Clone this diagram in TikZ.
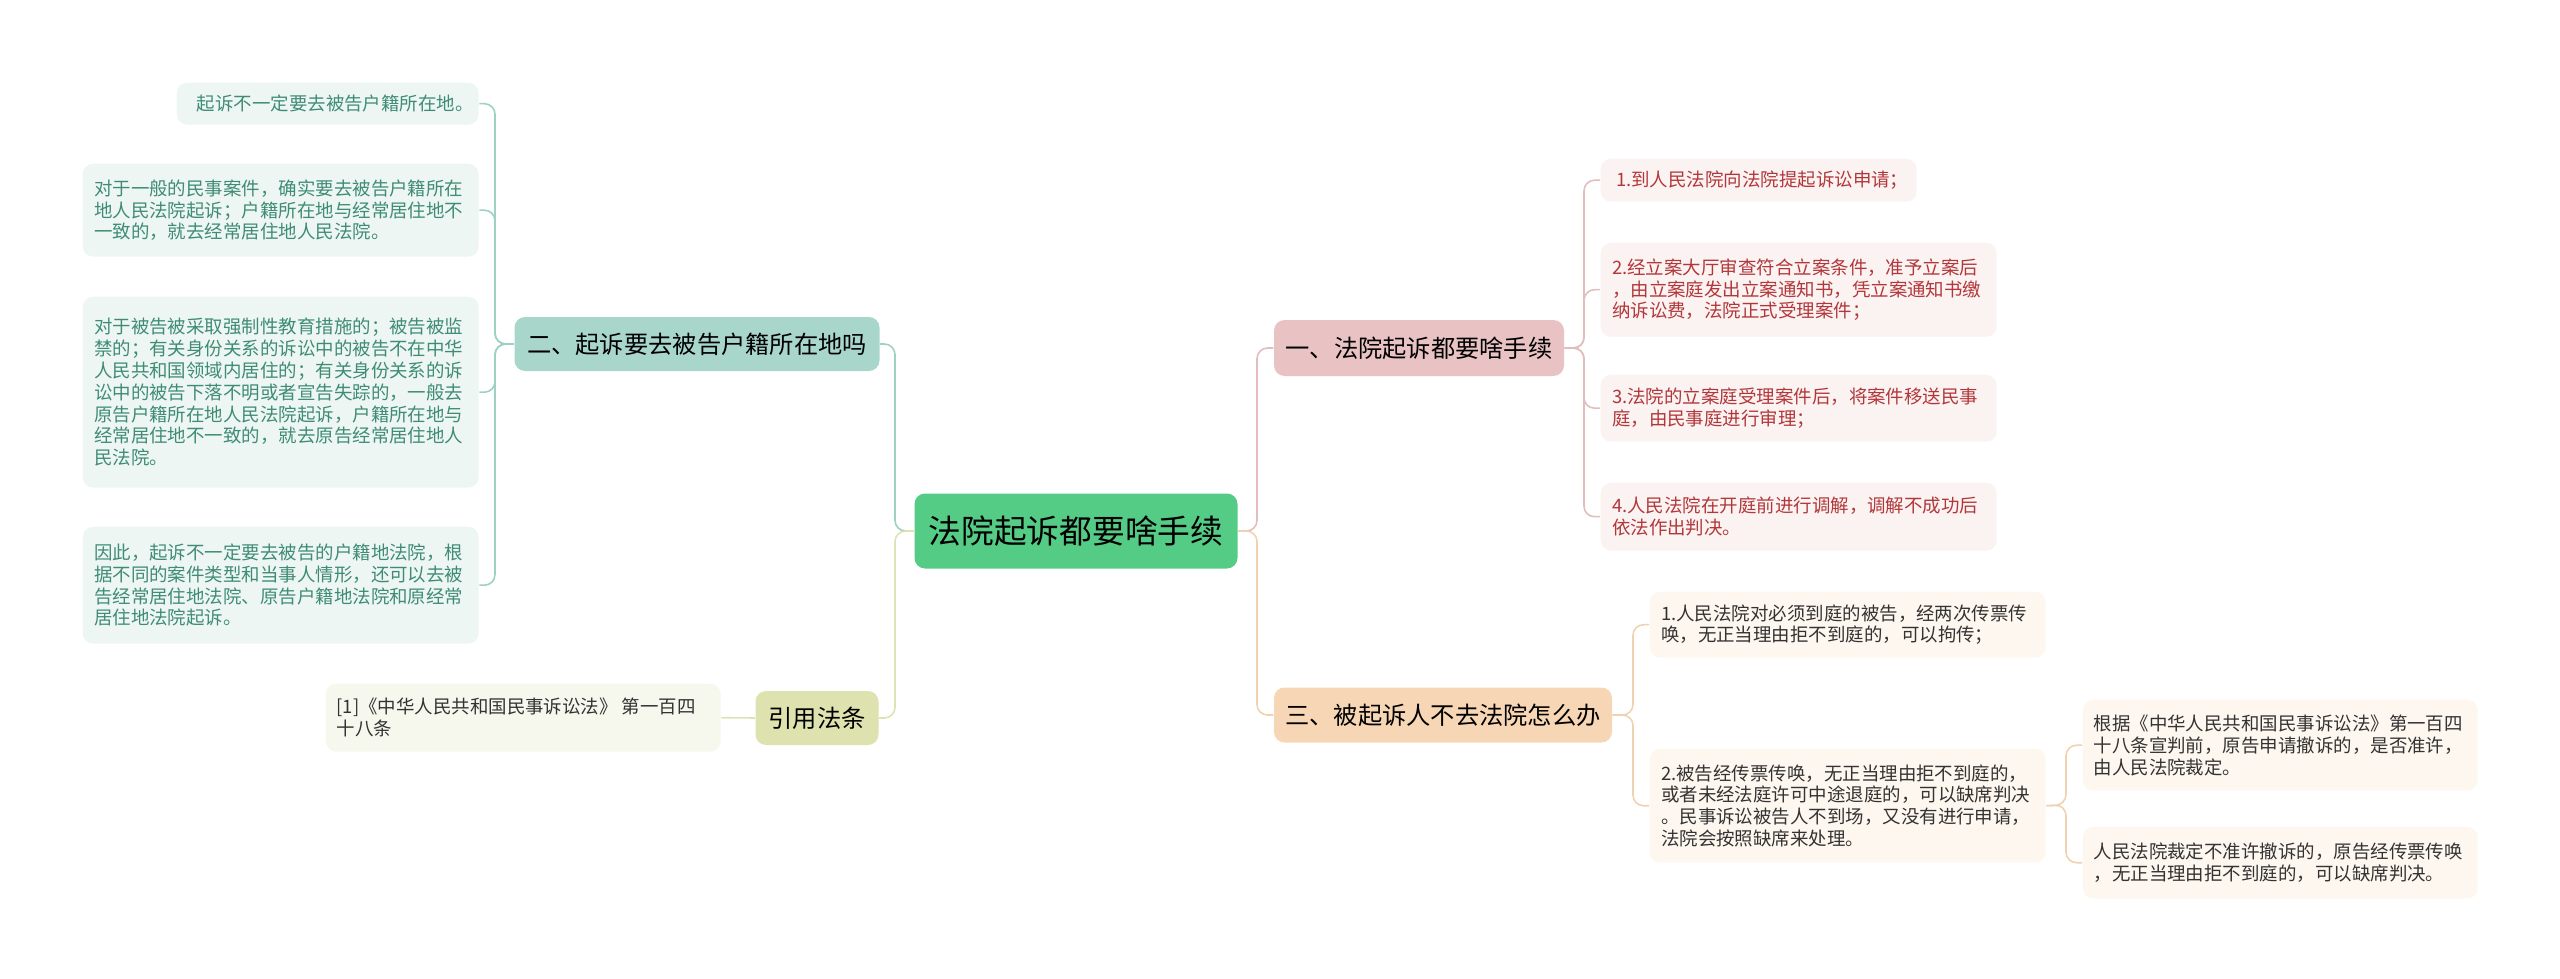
\documentclass[tikz,border=0pt]{standalone}
\usepackage{fontspec}
\setmainfont{Noto Sans CJK SC}
\usetikzlibrary{positioning}
\newlength\upx
\setlength\upx{0.01cm}
\definecolor{mgreen}{HTML}{55CC85}
\definecolor{tealb}{HTML}{A9D6CB}
\definecolor{teall}{HTML}{EEF6F3}
\definecolor{tealt}{HTML}{3F8C76}
\definecolor{tealline}{HTML}{9ED0C3}
\definecolor{pinkb}{HTML}{E9C3C3}
\definecolor{pinkl}{HTML}{FBF2F2}
\definecolor{pinkt}{HTML}{B2373A}
\definecolor{pinkline}{HTML}{E3BDBD}
\definecolor{orab}{HTML}{F6D6B4}
\definecolor{oral}{HTML}{FEF7EF}
\definecolor{oraline}{HTML}{F0D2B0}
\definecolor{olib}{HTML}{DDE2AF}
\definecolor{olil}{HTML}{F6F8EE}
\definecolor{oliline}{HTML}{DEE2B4}
\tikzset{
  leaf/.style = {anchor=north west, align=left, inner sep=0pt, rounded corners=3pt,
                 font=\fontsize{5.25}{6.2}\selectfont},
  branch/.style = {rounded corners=3pt, inner sep=0pt, font=\fontsize{6.9}{7.5}\selectfont},
  link/.style = {line width=0.45pt, rounded corners=3pt}
}

\begin{document}
\begin{tikzpicture}[x=0.01cm, y=-0.01cm]
    \useasboundingbox (0, 0) rectangle (2560, 979);

    \node [fill=mgreen, rounded corners=3pt, minimum width=323\upx, minimum height=75\upx,
           font=\fontsize{9.3}{10}\selectfont] (root) at (1076, 531) {法院起诉都要啥手续};

    \node [branch, fill=tealb, minimum width=365\upx, minimum height=54\upx] (b2) at (697, 344) {二、起诉要去被告户籍所在地吗};
    \node [branch, fill=olib, minimum width=123\upx, minimum height=54\upx] (bref) at (817, 718) {引用法条};
    \node [branch, fill=pinkb, minimum width=290\upx, minimum height=56\upx] (b1) at (1419, 348) {一、法院起诉都要啥手续};
    \node [branch, fill=orab, minimum width=338\upx, minimum height=55\upx] (b3) at (1443, 715) {三、被起诉人不去法院怎么办};

    % left leaves
    \node [leaf, fill=teall, text=tealt, minimum width=302\upx, minimum height=42\upx, text width=292\upx] (l1) at (176, 82)
          {\hfill 起诉不一定要去被告户籍所在地。};
    \node [leaf, fill=teall, text=tealt, minimum width=396\upx, minimum height=93\upx] (l2) at (82, 163)
          {\hspace*{2pt}\begin{minipage}{3.8cm}对于一般的民事案件，确实要去被告户籍所在\\地人民法院起诉；户籍所在地与经常居住地不\\一致的，就去经常居住地人民法院。\end{minipage}};
    \node [leaf, fill=teall, text=tealt, minimum width=396\upx, minimum height=191\upx] (l3) at (82, 296)
          {\hspace*{2pt}\begin{minipage}{3.8cm}对于被告被采取强制性教育措施的；被告被监\\禁的；有关身份关系的诉讼中的被告不在中华\\人民共和国领域内居住的；有关身份关系的诉\\讼中的被告下落不明或者宣告失踪的，一般去\\原告户籍所在地人民法院起诉，户籍所在地与\\经常居住地不一致的，就去原告经常居住地人\\民法院。\end{minipage}};
    \node [leaf, fill=teall, text=tealt, minimum width=396\upx, minimum height=117\upx] (l4) at (82, 526)
          {\hspace*{2pt}\begin{minipage}{3.8cm}因此，起诉不一定要去被告的户籍地法院，根\\据不同的案件类型和当事人情形，还可以去被\\告经常居住地法院、原告户籍地法院和原经常\\居住地法院起诉。\end{minipage}};
    \node [leaf, fill=olil, text=black!80, minimum width=395\upx, minimum height=68\upx] (r1) at (325, 683)
          {\hspace*{2pt}\begin{minipage}{3.8cm}[1]《中华人民共和国民事诉讼法》 第一百四\\十八条\end{minipage}};

    % right leaves
    \node [leaf, fill=pinkl, text=pinkt, minimum width=316\upx, minimum height=43\upx] (p1) at (1600, 158)
          {\hspace*{2pt}1.到人民法院向法院提起诉讼申请；};
    \node [leaf, fill=pinkl, text=pinkt, minimum width=396\upx, minimum height=94\upx] (p2) at (1600, 242)
          {\hspace*{2pt}\begin{minipage}{3.8cm}2.经立案大厅审查符合立案条件，准予立案后\\，由立案庭发出立案通知书，凭立案通知书缴\\纳诉讼费，法院正式受理案件；\end{minipage}};
    \node [leaf, fill=pinkl, text=pinkt, minimum width=396\upx, minimum height=67\upx] (p3) at (1600, 374)
          {\hspace*{2pt}\begin{minipage}{3.8cm}3.法院的立案庭受理案件后，将案件移送民事\\庭，由民事庭进行审理；\end{minipage}};
    \node [leaf, fill=pinkl, text=pinkt, minimum width=396\upx, minimum height=68\upx] (p4) at (1600, 482)
          {\hspace*{2pt}\begin{minipage}{3.8cm}4.人民法院在开庭前进行调解，调解不成功后\\依法作出判决。\end{minipage}};

    \node [leaf, fill=oral, text=black!80, minimum width=396\upx, minimum height=66\upx] (o1) at (1649, 591)
          {\hspace*{2pt}\begin{minipage}{3.8cm}1.人民法院对必须到庭的被告，经两次传票传\\唤，无正当理由拒不到庭的，可以拘传；\end{minipage}};
    \node [leaf, fill=oral, text=black!80, minimum width=396\upx, minimum height=114\upx] (o2) at (1649, 748)
          {\hspace*{2pt}\begin{minipage}{3.8cm}2.被告经传票传唤，无正当理由拒不到庭的，\\或者未经法庭许可中途退庭的，可以缺席判决\\。民事诉讼被告人不到场，又没有进行申请，\\法院会按照缺席来处理。\end{minipage}};
    \node [leaf, fill=oral, text=black!80, minimum width=395\upx, minimum height=91\upx] (t1) at (2082, 699)
          {\hspace*{2pt}\begin{minipage}{3.8cm}根据《中华人民共和国民事诉讼法》第一百四\\十八条宣判前，原告申请撤诉的，是否准许，\\由人民法院裁定。\end{minipage}};
    \node [leaf, fill=oral, text=black!80, minimum width=395\upx, minimum height=72\upx] (t2) at (2082, 826)
          {\hspace*{2pt}\begin{minipage}{3.8cm}人民法院裁定不准许撤诉的，原告经传票传唤\\，无正当理由拒不到庭的，可以缺席判决。\end{minipage}};

    % connectors
    \foreach \c in {l1, l2, l3, l4}
      \draw [link, tealline] (b2.west) -- (495, 344) |- (\c.east);
    \draw [link, tealline] (root.west) -- (895, 531) |- (b2.east);
    \draw [link, oliline] (root.west) -- (895, 531) |- (bref.east);
    \draw [link, oliline] (bref.west) -- (r1.east);
    \draw [link, pinkline] (root.east) -- (1257, 531) |- (b1.west);
    \draw [link, oraline] (root.east) -- (1257, 531) |- (b3.west);
    \foreach \c in {p1, p2, p3, p4}
      \draw [link, pinkline] (b1.east) -- (1584, 348) |- (\c.west);
    \foreach \c in {o1, o2}
      \draw [link, oraline] (b3.east) -- (1633, 715) |- (\c.west);
    \foreach \c in {t1, t2}
      \draw [link, oraline] (o2.east) -- (2066, 805) |- (\c.west);
\end{tikzpicture}
\end{document}
